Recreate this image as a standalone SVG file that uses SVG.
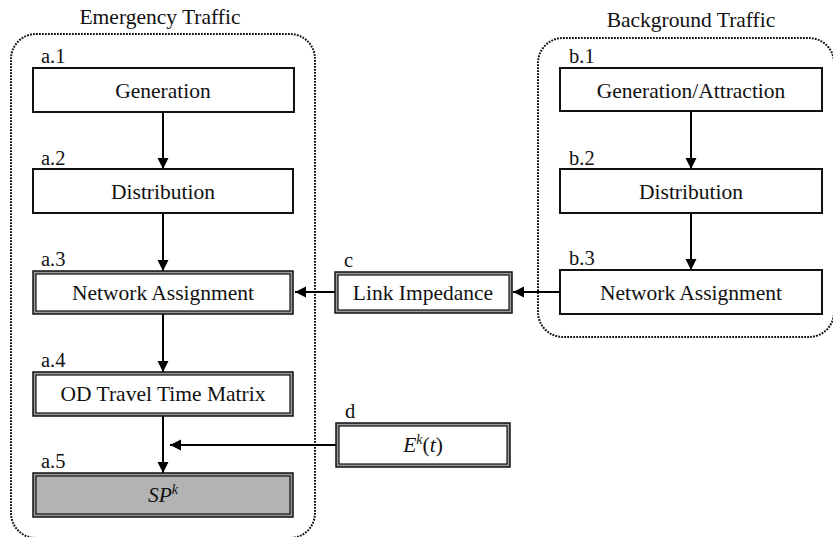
<svg xmlns="http://www.w3.org/2000/svg" width="833" height="537" viewBox="0 0 833 537">
<style>
text{font-family:"Liberation Serif","Times New Roman",Times,serif;fill:#111}
.t{font-size:21.5px;text-anchor:middle}
.h{font-size:21.5px;text-anchor:middle}
.l{font-size:20.5px}
.grp{fill:none;stroke:#111;stroke-width:2;stroke-dasharray:1.8 1.2}
.sb{fill:#fff;stroke:#111;stroke-width:2}
.db-o{fill:#9a9a9a;stroke:#111;stroke-width:1.5}
.db-i{fill:#fff;stroke:#111;stroke-width:1.2}
.c{fill:none;stroke:#000;stroke-width:2}
</style>
<defs>
<marker id="ah" markerUnits="userSpaceOnUse" markerWidth="12" markerHeight="12" refX="11" refY="5.5" orient="auto">
<path d="M0,0 L11,5.5 L0,11 Z" fill="#000"/>
</marker>
</defs>
<g id="emergency-group">
<rect class="grp" x="11" y="34" width="304" height="504" rx="25"/>
<text class="h" x="160" y="24">Emergency Traffic</text>
</g>
<g id="background-group">
<rect class="grp" x="538" y="38" width="296" height="299" rx="25"/>
<text class="h" x="691" y="27">Background Traffic</text>
</g>
<g id="connectors">
<line class="c" x1="163" y1="112" x2="163" y2="169" marker-end="url(#ah)"/>
<line class="c" x1="163" y1="213" x2="163" y2="271" marker-end="url(#ah)"/>
<line class="c" x1="163" y1="314" x2="163" y2="372" marker-end="url(#ah)"/>
<line class="c" x1="163" y1="416" x2="163" y2="473" marker-end="url(#ah)"/>
<line class="c" x1="691" y1="111" x2="691" y2="169" marker-end="url(#ah)"/>
<line class="c" x1="691" y1="213" x2="691" y2="270" marker-end="url(#ah)"/>
<line class="c" x1="560" y1="292" x2="513" y2="292" marker-end="url(#ah)"/>
<line class="c" x1="335" y1="292" x2="295" y2="292" marker-end="url(#ah)"/>
<line class="c" x1="336" y1="445" x2="170" y2="445" marker-end="url(#ah)"/>
</g>
<g id="a1">
<text class="l" x="41" y="63">a.1</text>
<rect class="sb" x="33" y="68" width="261" height="44"/>
<text class="t" x="163" y="98">Generation</text>
</g>
<g id="a2">
<text class="l" x="41" y="165">a.2</text>
<rect class="sb" x="33" y="169" width="260" height="44"/>
<text class="t" x="163" y="199">Distribution</text>
</g>
<g id="a3">
<text class="l" x="41" y="266">a.3</text>
<rect class="db-o" x="33" y="271" width="260" height="43"/>
<rect class="db-i" x="36" y="274" width="254" height="37"/>
<text class="t" x="163" y="300">Network Assignment</text>
</g>
<g id="a4">
<text class="l" x="41" y="367">a.4</text>
<rect class="db-o" x="33" y="372" width="260" height="44"/>
<rect class="db-i" x="36" y="375" width="254" height="38"/>
<text class="t" x="163" y="401">OD Travel Time Matrix</text>
</g>
<g id="a5">
<text class="l" x="41" y="468">a.5</text>
<rect class="db-o" x="33" y="473" width="260" height="44"/>
<rect class="db-i" x="36" y="476" width="254" height="38" style="fill:#b3b3b3"/>
<text class="t" x="163" y="502" font-style="italic">SP<tspan font-size="14" dy="-8">k</tspan></text>
</g>
<g id="b1">
<text class="l" x="569" y="63">b.1</text>
<rect class="sb" x="560" y="68" width="262" height="43"/>
<text class="t" x="691" y="98">Generation/Attraction</text>
</g>
<g id="b2">
<text class="l" x="569" y="165">b.2</text>
<rect class="sb" x="560" y="169" width="262" height="44"/>
<text class="t" x="691" y="199">Distribution</text>
</g>
<g id="b3">
<text class="l" x="569" y="265">b.3</text>
<rect class="sb" x="560" y="270" width="262" height="44"/>
<text class="t" x="691" y="300">Network Assignment</text>
</g>
<g id="c">
<text class="l" x="344" y="267">c</text>
<rect class="db-o" x="335" y="272" width="177" height="41"/>
<rect class="db-i" x="338" y="275" width="171" height="35"/>
<text class="t" x="423" y="300">Link Impedance</text>
</g>
<g id="d">
<text class="l" x="345" y="418">d</text>
<rect class="db-o" x="336" y="423" width="174" height="44"/>
<rect class="db-i" x="339" y="426" width="168" height="38"/>
<text class="t" x="423" y="452"><tspan font-style="italic">E</tspan><tspan font-style="italic" font-size="14" dy="-8">k</tspan><tspan dy="8">(</tspan><tspan font-style="italic">t</tspan>)</text>
</g>
</svg>
